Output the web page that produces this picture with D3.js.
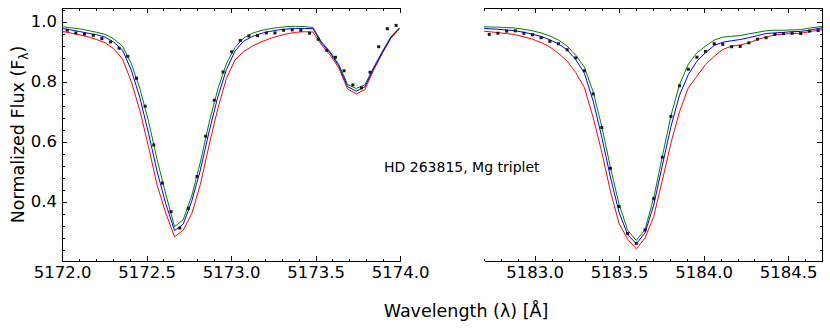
<!DOCTYPE html>
<html lang="en">
<head>
    <meta charset="UTF-8">
    <title>HD 263815, Mg triplet</title>
    <script src="https://d3js.org/d3.v7.min.js"></script>
    <style>
        body { margin: 0; background: #fff; }
        svg text { font-family: "DejaVu Sans", sans-serif; }
        .axis path, .axis line { stroke: #000; stroke-width: 1; shape-rendering: crispEdges; }
        .axis text { font-size: 16.5px; fill: #000; font-family: "DejaVu Sans", sans-serif; }
        .model { fill: none; stroke-width: 1; }
    </style>
</head>
<body>
    <svg id="chart" width="830" height="335"></svg>

    <script>
        // observed spectrum, left window (5172-5174 A)
        var obsWaveL = [5172.031, 5172.082, 5172.133, 5172.185, 5172.236, 5172.287, 5172.338, 5172.389, 5172.441, 5172.492,
            5172.543, 5172.594, 5172.645, 5172.697, 5172.748, 5172.799, 5172.850, 5172.901, 5172.953, 5173.004,
            5173.055, 5173.106, 5173.157, 5173.209, 5173.260, 5173.311, 5173.362, 5173.413, 5173.465, 5173.516,
            5173.567, 5173.618, 5173.669, 5173.721, 5173.772, 5173.823, 5173.874, 5173.925, 5173.977];
        var obsFluxL = [0.971, 0.962, 0.958, 0.954, 0.943, 0.932, 0.911, 0.884, 0.811, 0.718,
            0.589, 0.462, 0.367, 0.312, 0.378, 0.484, 0.618, 0.738, 0.832, 0.899,
            0.937, 0.952, 0.953, 0.962, 0.962, 0.971, 0.972, 0.971, 0.961, 0.941,
            0.904, 0.881, 0.836, 0.789, 0.779, 0.831, 0.916, 0.976, 0.987];

        // synthetic spectra, left window
        var modelWaveL = [5172.000, 5172.051, 5172.102, 5172.154, 5172.205, 5172.256, 5172.307, 5172.358, 5172.410, 5172.461,
            5172.512, 5172.563, 5172.614, 5172.666, 5172.717, 5172.768, 5172.819, 5172.870, 5172.922, 5172.973,
            5173.024, 5173.075, 5173.126, 5173.178, 5173.229, 5173.280, 5173.331, 5173.382, 5173.434, 5173.485,
            5173.536, 5173.587, 5173.638, 5173.690, 5173.741, 5173.792, 5173.843, 5173.894, 5173.946, 5173.997];
        var greenL = [0.983, 0.979, 0.976, 0.970, 0.964, 0.957, 0.942, 0.918, 0.860, 0.776,
            0.668, 0.540, 0.425, 0.317, 0.340, 0.420, 0.532, 0.662, 0.775, 0.860,
            0.914, 0.945, 0.961, 0.970, 0.976, 0.980, 0.983, 0.984, 0.983, 0.980,
            0.932, 0.899, 0.857, 0.790, 0.777, 0.789, 0.846, 0.899, 0.949, 0.979];
        var blueL = [0.977, 0.972, 0.967, 0.961, 0.956, 0.948, 0.931, 0.905, 0.838, 0.746,
            0.628, 0.500, 0.393, 0.304, 0.325, 0.402, 0.506, 0.632, 0.749, 0.840,
            0.902, 0.935, 0.950, 0.960, 0.967, 0.972, 0.975, 0.977, 0.977, 0.976,
            0.928, 0.895, 0.852, 0.783, 0.768, 0.782, 0.842, 0.896, 0.947, 0.978];
        var redL = [0.967, 0.962, 0.956, 0.949, 0.940, 0.929, 0.909, 0.875, 0.800, 0.703,
            0.583, 0.455, 0.362, 0.283, 0.305, 0.360, 0.458, 0.587, 0.710, 0.811,
            0.872, 0.900, 0.918, 0.932, 0.943, 0.952, 0.959, 0.964, 0.966, 0.965,
            0.922, 0.888, 0.845, 0.775, 0.759, 0.773, 0.837, 0.892, 0.944, 0.976];

        // observed spectrum, right window (5182.7-5184.7 A)
        var obsWaveR = [5182.731, 5182.782, 5182.834, 5182.885, 5182.936, 5182.987, 5183.038, 5183.090, 5183.141, 5183.192,
            5183.243, 5183.294, 5183.346, 5183.397, 5183.448, 5183.499, 5183.550, 5183.601, 5183.653, 5183.704,
            5183.755, 5183.806, 5183.857, 5183.909, 5183.960, 5184.011, 5184.062, 5184.113, 5184.165, 5184.216,
            5184.267, 5184.318, 5184.369, 5184.421, 5184.472, 5184.523, 5184.574, 5184.625, 5184.677];
        var obsFluxR = [0.957, 0.961, 0.968, 0.969, 0.961, 0.956, 0.946, 0.934, 0.926, 0.906,
            0.879, 0.836, 0.759, 0.647, 0.511, 0.384, 0.294, 0.261, 0.306, 0.410,
            0.548, 0.684, 0.786, 0.841, 0.881, 0.900, 0.926, 0.924, 0.916, 0.917,
            0.929, 0.941, 0.946, 0.957, 0.960, 0.961, 0.960, 0.968, 0.970];

        // synthetic spectra, right window
        var modelWaveR = [5182.680, 5182.731, 5182.782, 5182.834, 5182.885, 5182.936, 5182.987, 5183.038, 5183.090, 5183.141,
            5183.192, 5183.243, 5183.294, 5183.346, 5183.397, 5183.448, 5183.499, 5183.550, 5183.601, 5183.653,
            5183.704, 5183.755, 5183.806, 5183.857, 5183.909, 5183.960, 5184.011, 5184.062, 5184.113, 5184.165,
            5184.216, 5184.267, 5184.318, 5184.369, 5184.421, 5184.472, 5184.523, 5184.574, 5184.625, 5184.677, 5184.728];
        var greenR = [0.983, 0.982, 0.981, 0.980, 0.978, 0.974, 0.969, 0.962, 0.952, 0.938,
            0.918, 0.888, 0.848, 0.766, 0.650, 0.515, 0.392, 0.305, 0.271, 0.307,
            0.412, 0.550, 0.686, 0.790, 0.858, 0.896, 0.918, 0.938, 0.948, 0.951,
            0.953, 0.959, 0.964, 0.969, 0.971, 0.971, 0.972, 0.973, 0.978, 0.982, 0.985];
        var blueR = [0.978, 0.976, 0.974, 0.972, 0.969, 0.964, 0.958, 0.950, 0.939, 0.925,
            0.906, 0.873, 0.828, 0.735, 0.615, 0.482, 0.365, 0.290, 0.260, 0.296,
            0.388, 0.520, 0.650, 0.755, 0.823, 0.868, 0.896, 0.920, 0.931, 0.936,
            0.940, 0.946, 0.953, 0.960, 0.962, 0.964, 0.966, 0.967, 0.971, 0.977, 0.980];
        var redR = [0.969, 0.966, 0.963, 0.960, 0.956, 0.949, 0.941, 0.930, 0.915, 0.894,
            0.868, 0.830, 0.780, 0.680, 0.565, 0.435, 0.328, 0.275, 0.243, 0.279,
            0.350, 0.470, 0.595, 0.700, 0.779, 0.818, 0.857, 0.884, 0.907, 0.918,
            0.922, 0.929, 0.940, 0.948, 0.956, 0.958, 0.960, 0.961, 0.966, 0.971, 0.974];

        // tick labels
        var xTicksL = [5172.0, 5172.5, 5173.0, 5173.5, 5174.0];
        var xTicksR = [5183.0, 5183.5, 5184.0, 5184.5];
        var yTicks = [0.4, 0.6, 0.8, 1.0];

        var svg = d3.select("#chart");
        var plotTop = 8, plotBottom = 261;

        var y = d3.scaleLinear().domain([0.2025, 1.045]).range([plotBottom, plotTop]);
        var xL = d3.scaleLinear().domain([5172.0, 5174.0]).range([62, 400]);
        var xR = d3.scaleLinear().domain([5182.7, 5184.7]).range([484, 822]);

        function range(a, b, step) {
            var out = [];
            for (var v = a; v <= b + 1e-9; v += step) out.push(+v.toFixed(3));
            return out;
        }
        var yMinor = range(0.24, 1.04, 0.04);

        function drawPanel(id, x, mWave, g, b, r, oWave, oFlux, xTicks, side) {
            var x0 = x.range()[0], x1 = x.range()[1];
            var p = svg.append("g");

            svg.append("clipPath").attr("id", id)
                .append("rect").attr("x", x0).attr("y", plotTop)
                .attr("width", x1 - x0).attr("height", plotBottom - plotTop);

            var xMinor = range(x.domain()[0], x.domain()[1], 0.1);

            // x axes: bottom with labels, top without
            p.append("g").attr("class", "axis")
                .attr("transform", "translate(0," + plotBottom + ")")
                .call(d3.axisBottom(x).tickValues(xMinor).tickSize(-2.5).tickSizeOuter(0).tickFormat(""));
            p.append("g").attr("class", "axis")
                .attr("transform", "translate(0," + plotBottom + ")")
                .call(d3.axisBottom(x).tickValues(xTicks).tickSize(-5).tickSizeOuter(0).tickPadding(5).tickFormat(d3.format(".1f")))
                .select(".domain").remove();
            p.append("g").attr("class", "axis")
                .attr("transform", "translate(0," + plotTop + ")")
                .call(d3.axisTop(x).tickValues(xMinor).tickSize(-2.5).tickSizeOuter(0).tickFormat(""));
            p.append("g").attr("class", "axis")
                .attr("transform", "translate(0," + plotTop + ")")
                .call(d3.axisTop(x).tickValues(xTicks).tickSize(-5).tickFormat(""))
                .select(".domain").remove();

            // y axis on the outer side only
            var yx = side === "left" ? x0 : x1;
            var mk = side === "left" ? d3.axisLeft : d3.axisRight;
            p.append("g").attr("class", "axis")
                .attr("transform", "translate(" + yx + ",0)")
                .call(mk(y).tickValues(yMinor).tickSize(-2.5).tickSizeOuter(0).tickFormat(""));
            var ya = p.append("g").attr("class", "axis")
                .attr("transform", "translate(" + yx + ",0)")
                .call(mk(y).tickValues(yTicks).tickSize(-5).tickPadding(5)
                    .tickFormat(side === "left" ? d3.format(".1f") : ""));
            ya.select(".domain").remove();

            var line = d3.line().x(d => x(d[0])).y(d => y(d[1]));
            var series = [[g, "#008000"], [r, "#ff0000"], [b, "#0000ff"]];
            var lines = p.append("g").attr("clip-path", "url(#" + id + ")");
            series.forEach(function (s) {
                lines.append("path")
                    .attr("class", "model")
                    .attr("stroke", s[1])
                    .attr("d", line(mWave.map((w, i) => [w, s[0][i]])));
            });

            lines.selectAll(".obs")
                .data(oWave.map((w, i) => [w, oFlux[i]]))
                .enter().append("rect")
                .attr("class", "obs")
                .attr("x", d => x(d[0]) - 1.5)
                .attr("y", d => y(d[1]) - 1.5)
                .attr("width", 3)
                .attr("height", 3)
                .attr("fill", "#1a1a1a");
        }

        drawPanel("clipL", xL, modelWaveL, greenL, blueL, redL, obsWaveL, obsFluxL, xTicksL, "left");
        drawPanel("clipR", xR, modelWaveR, greenR, blueR, redR, obsWaveR, obsFluxR, xTicksR, "right");

        svg.append("text")
            .attr("x", 384).attr("y", 172)
            .style("font-size", "14px")
            .text("HD 263815, Mg triplet");

        var yl = svg.append("text")
            .attr("transform", "translate(24," + ((plotTop + plotBottom) / 2) + ") rotate(-90)")
            .attr("text-anchor", "middle")
            .style("font-size", "17.5px");
        yl.append("tspan").text("Normalized Flux (F");
        yl.append("tspan").attr("dy", 4).style("font-size", "12px").text("λ");
        yl.append("tspan").attr("dy", -4).text(")");

        svg.append("text")
            .attr("x", 466).attr("y", 317)
            .attr("text-anchor", "middle")
            .style("font-size", "17.5px")
            .text("Wavelength (λ) [Å]");
    </script>
</body>
</html>
